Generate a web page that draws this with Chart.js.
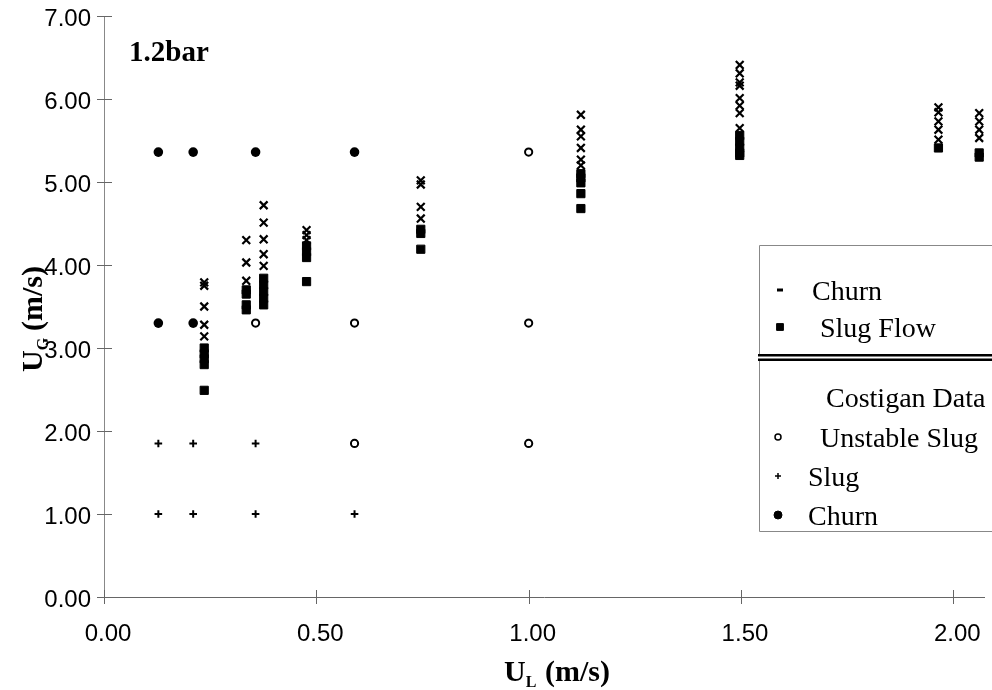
<!DOCTYPE html>
<html>
<head>
<meta charset="utf-8">
<script src="https://cdn.jsdelivr.net/npm/chart.js@4"></script>
<style>
  html, body { margin: 0; padding: 0; background: #fff; }
  #wrap { width: 992px; height: 690px; position: relative; }
</style>
</head>
<body>
<div id="wrap"><canvas id="c"></canvas></div>
<script>
// Flow-regime map at 1.2 bar: gas vs liquid superficial velocity (m/s)

// Present experiments: churn points
const churnUL = [0.236, 0.236, 0.236, 0.236, 0.236,
                 0.335, 0.335, 0.335,
                 0.376, 0.376, 0.376, 0.376, 0.376,
                 0.477, 0.477, 0.477,
                 0.746, 0.746, 0.746, 0.746,
                 1.123, 1.123, 1.123, 1.123, 1.123, 1.123,
                 1.497, 1.497, 1.497, 1.497, 1.497, 1.497, 1.497, 1.497,
                 1.965, 1.965, 1.965, 1.965, 1.965,
                 2.061, 2.061, 2.061, 2.061];
const churnUG = [3.79, 3.75, 3.50, 3.28, 3.14,
                 4.30, 4.03, 3.81,
                 4.72, 4.51, 4.31, 4.13, 3.99,
                 4.42, 4.36, 4.30,
                 5.02, 4.97, 4.70, 4.56,
                 5.81, 5.63, 5.55, 5.41, 5.27, 5.20,
                 6.41, 6.31, 6.20, 6.16, 6.01, 5.92, 5.83, 5.65,
                 5.90, 5.84, 5.73, 5.63, 5.51,
                 5.83, 5.73, 5.63, 5.53];

// Present experiments: slug flow points
const slugFlowUL = [0.236, 0.236, 0.236, 0.236, 0.236,
                    0.335, 0.335, 0.335, 0.335,
                    0.376, 0.376, 0.376, 0.376, 0.376,
                    0.477, 0.477, 0.477, 0.477,
                    0.746, 0.746, 0.746,
                    1.123, 1.123, 1.123, 1.123, 1.123,
                    1.497, 1.497, 1.497, 1.497, 1.497,
                    1.965,
                    2.061, 2.061];
const slugFlowUG = [3.00, 2.93, 2.87, 2.80, 2.49,
                    3.70, 3.65, 3.52, 3.46,
                    3.84, 3.76, 3.68, 3.60, 3.52,
                    4.23, 4.16, 4.09, 3.80,
                    4.43, 4.38, 4.19,
                    5.10, 5.05, 4.99, 4.86, 4.68,
                    5.56, 5.49, 5.41, 5.35, 5.32,
                    5.41,
                    5.35, 5.30];

// Costigan data
const costUnstableUL = [1.0, 0.357, 0.59, 1.0, 0.59, 1.0];
const costUnstableUG = [5.36, 3.30, 3.30, 3.30, 1.85, 1.85];
const costSlugUL = [0.128, 0.21, 0.357, 0.128, 0.21, 0.357, 0.59];
const costSlugUG = [1.85, 1.85, 1.85, 1.00, 1.00, 1.00, 1.00];
const costChurnUL = [0.128, 0.21, 0.357, 0.59, 0.128, 0.21];
const costChurnUG = [5.36, 5.36, 5.36, 5.36, 3.30, 3.30];

// Axis ticks
const xTickValues = [0, 0.5, 1, 1.5, 2];
const yTickValues = [0, 1, 2, 3, 4, 5, 6, 7];

const pairs = (xs, ys) => xs.map((v, i) => ({ x: v, y: ys[i] }));

const SERIF = '"Liberation Serif", "Times New Roman", serif';
Chart.defaults.font.family = '"Liberation Sans", Arial, sans-serif';
Chart.defaults.color = '#000';

// keep the plot area exactly where the scales are told to put it
const noPadding = s => { s.paddingTop = 0; s.paddingBottom = 0; s.paddingLeft = 0; s.paddingRight = 0; };

// Axis cross-ticks, axis titles, pressure label and the two-part key
const decor = {
  id: 'decor',
  afterDraw(chart) {
    const { ctx, chartArea: a, scales: { x, y } } = chart;
    const ds = chart.data.datasets;
    ctx.save();

    // tick marks crossing the axes
    ctx.strokeStyle = '#666';
    ctx.lineWidth = 1;
    ctx.beginPath();
    yTickValues.forEach(v => {
      const py = Math.round(y.getPixelForValue(v)) + 0.5;
      ctx.moveTo(a.left - 7, py); ctx.lineTo(a.left + 8, py);
    });
    xTickValues.forEach(v => {
      const px = Math.round(x.getPixelForValue(v)) + 0.5;
      ctx.moveTo(px, a.bottom - 7); ctx.lineTo(px, a.bottom + 7);
    });
    ctx.stroke();

    // axis titles with subscripts
    ctx.fillStyle = '#000';
    ctx.textAlign = 'left';
    ctx.textBaseline = 'alphabetic';
    const title = (main, sub) => {
      ctx.font = 'bold 30px ' + SERIF;
      ctx.fillText(main, 0, 0);
      const w = ctx.measureText(main).width;
      ctx.font = 'bold 16px ' + SERIF;
      ctx.fillText(sub, w, 6);
      ctx.font = 'bold 30px ' + SERIF;
      ctx.fillText('(m/s)', 41, 0);
    };
    ctx.save();
    ctx.translate(504, 681);
    title('U', 'L');
    ctx.restore();
    ctx.save();
    ctx.translate(42, 372);
    ctx.rotate(-Math.PI / 2);
    title('U', 'G');
    ctx.restore();

    // pressure label
    ctx.font = 'bold 29px ' + SERIF;
    ctx.fillText('1.2bar', a.left + 25, a.top + 45);

    // key
    const L = 759.5, R = chart.width;
    ctx.fillStyle = '#fff';
    ctx.fillRect(L, 245.5, R - L, 286);
    ctx.strokeStyle = '#888';
    ctx.lineWidth = 1;
    ctx.beginPath();
    ctx.moveTo(R, 245.5); ctx.lineTo(L, 245.5); ctx.lineTo(L, 355);
    ctx.moveTo(L, 360); ctx.lineTo(L, 531.5); ctx.lineTo(R, 531.5);
    ctx.stroke();
    ctx.fillStyle = '#000';
    ctx.fillRect(758, 354, R - 758, 2.5);
    ctx.fillRect(758, 358.5, R - 758, 2.5);

    const entries = [
      { ds: 0, tx: 812, cy: 290, mx: 780, mark: { pointStyle: 'line', radius: 3, borderWidth: 3, rotation: 0 } },
      { ds: 1, tx: 820, cy: 327, mx: 780, mark: { pointStyle: 'rect', radius: 4.8, borderWidth: 1, rotation: 0 } },
      { ds: null, text: 'Costigan Data', tx: 826, cy: 397 },
      { ds: 2, tx: 820, cy: 437, mx: 778, mark: { pointStyle: 'circle', radius: 3, borderWidth: 1.5, rotation: 0 } },
      { ds: 3, tx: 808, cy: 476, mx: 778, mark: { pointStyle: 'cross', radius: 3, borderWidth: 1.5, rotation: 0 } },
      { ds: 4, tx: 808, cy: 515, mx: 778, mark: { pointStyle: 'circle', radius: 4, borderWidth: 1, rotation: 0 } }
    ];
    entries.forEach(e => {
      ctx.fillStyle = '#000';
      ctx.font = '28px ' + SERIF;
      const label = e.ds === null ? e.text : ds[e.ds].label;
      ctx.fillText(label, e.tx, e.cy + 9.5);
      if (e.ds !== null) {
        ctx.fillStyle = ds[e.ds].backgroundColor;
        ctx.strokeStyle = ds[e.ds].borderColor;
        ctx.lineWidth = e.mark.borderWidth;
        Chart.helpers.drawPoint(ctx, e.mark, e.mx, e.cy);
      }
    });

    ctx.restore();
  }
};

new Chart(document.getElementById('c'), {
  type: 'scatter',
  data: {
    datasets: [
      { label: 'Churn', data: pairs(churnUL, churnUG), pointStyle: 'crossRot',
        pointRadius: 5.5, borderWidth: 2.2, borderColor: '#000', backgroundColor: '#000' },
      { label: 'Slug Flow', data: pairs(slugFlowUL, slugFlowUG), pointStyle: 'rect',
        pointRadius: 5.8, borderWidth: 1, borderColor: '#000', backgroundColor: '#000' },
      { label: 'Unstable Slug', data: pairs(costUnstableUL, costUnstableUG), pointStyle: 'circle',
        pointRadius: 3.6, borderWidth: 2, borderColor: '#000', backgroundColor: '#fff' },
      { label: 'Slug', data: pairs(costSlugUL, costSlugUG), pointStyle: 'cross',
        pointRadius: 3.8, borderWidth: 2, borderColor: '#000', backgroundColor: '#000' },
      { label: 'Churn', data: pairs(costChurnUL, costChurnUG), pointStyle: 'circle',
        pointRadius: 4.8, borderWidth: 0, borderColor: '#000', backgroundColor: '#000' }
    ]
  },
  options: {
    responsive: true,
    maintainAspectRatio: false,
    animation: false,
    events: [],
    layout: { padding: { top: 16, right: 0, bottom: 0, left: 0 } },
    plugins: { legend: { display: false }, tooltip: { enabled: false } },
    scales: {
      x: {
        type: 'linear', min: 0, max: 2.073,
        grid: { display: false, drawTicks: false },
        border: { display: true, color: '#666', width: 1 },
        ticks: { font: { size: 24 }, color: '#000', padding: 23, labelOffset: 4,
                 maxRotation: 0, callback: v => v.toFixed(2) },
        afterBuildTicks: s => { s.ticks = xTickValues.map(v => ({ value: v })); },
        afterFit: s => { s.height = 93; noPadding(s); }
      },
      y: {
        type: 'linear', min: 0, max: 7,
        grid: { display: false, drawTicks: false },
        border: { display: true, color: '#888', width: 1 },
        ticks: { font: { size: 24 }, color: '#000', padding: 13, labelOffset: 3,
                 callback: v => v.toFixed(2) },
        afterBuildTicks: s => { s.ticks = yTickValues.map(v => ({ value: v })); },
        afterFit: s => { s.width = 104; noPadding(s); }
      }
    }
  },
  plugins: [decor]
});
</script>
</body>
</html>
